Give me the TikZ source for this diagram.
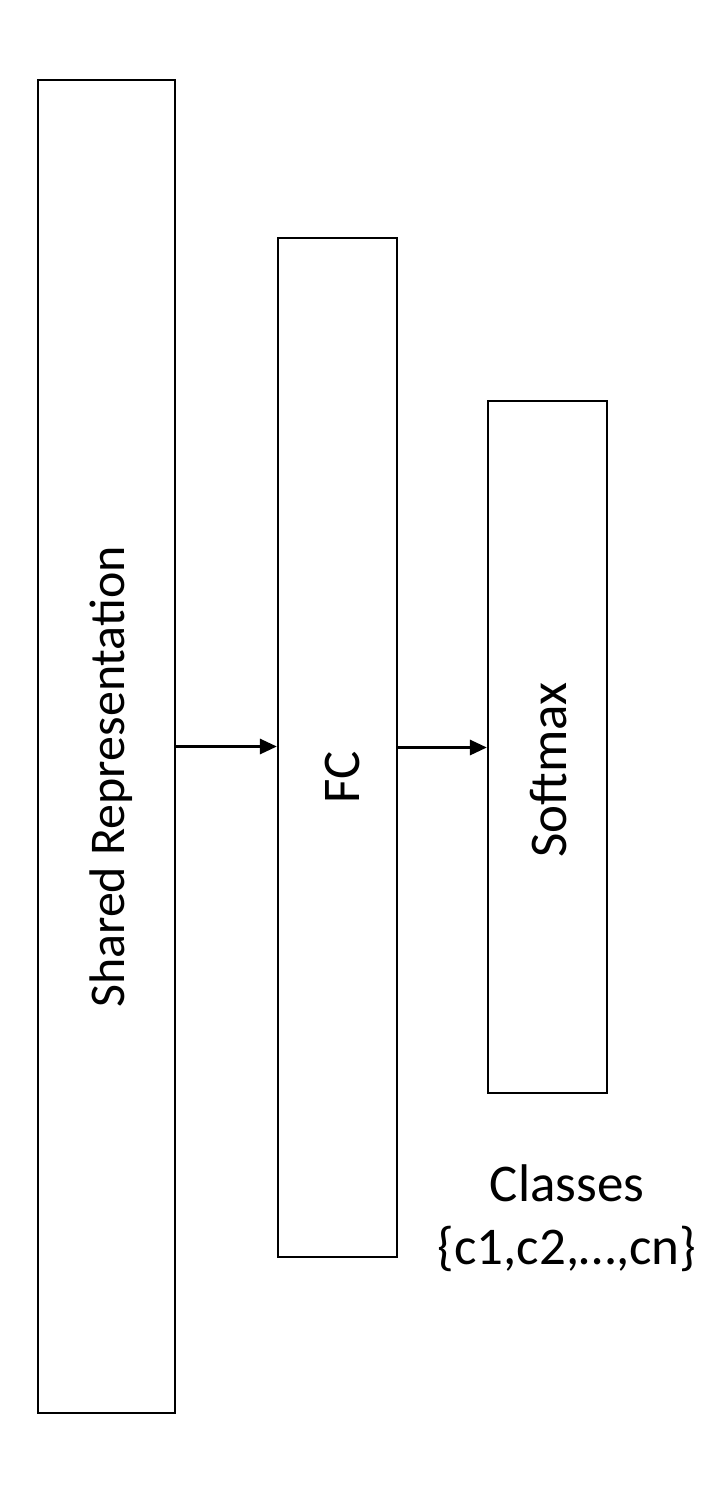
\documentclass[tikz,border=0pt]{standalone}
\usepackage{fontspec}
\setmainfont{Carlito}
\usetikzlibrary{arrows.meta}
\tikzset{
  layer/.style={draw=black, line width=2.2pt, rectangle, inner sep=0pt},
  lbl/.style={font=\fontsize{53}{63}\selectfont, inner sep=0pt, anchor=center},
  arr/.style={draw=black, line width=3pt, -{Triangle[length=17pt,width=15pt]}}
}
\begin{document}
\begin{tikzpicture}[x=1pt,y=-1pt]
\useasboundingbox (0,0) rectangle (712,1498);
\node[layer, minimum width=137pt, minimum height=1333pt] (sr) at (106.5,746.5) {};
\node[layer, minimum width=119pt, minimum height=1019pt] (fc) at (337.5,747.5) {};
\node[layer, minimum width=119pt, minimum height=692pt] (sm) at (547.5,747) {};
\node[lbl, rotate=90, font=\fontsize{50}{60}\selectfont] (srt) at (111,777) {Shared Representation};
\node[lbl, rotate=90] (fct) at (342.5,777.5) {FC};
\node[lbl, rotate=90] (smt) at (549,770) {Softmax};
\node[lbl, align=center] (cls) at (567,1218) {Classes\\\{c1,c2,…,cn\}};
\draw[arr] (sr.east) -- (sr.east -| fc.west);
\draw[arr] (fc.east) -- (fc.east -| sm.west);
\end{tikzpicture}
\end{document}
